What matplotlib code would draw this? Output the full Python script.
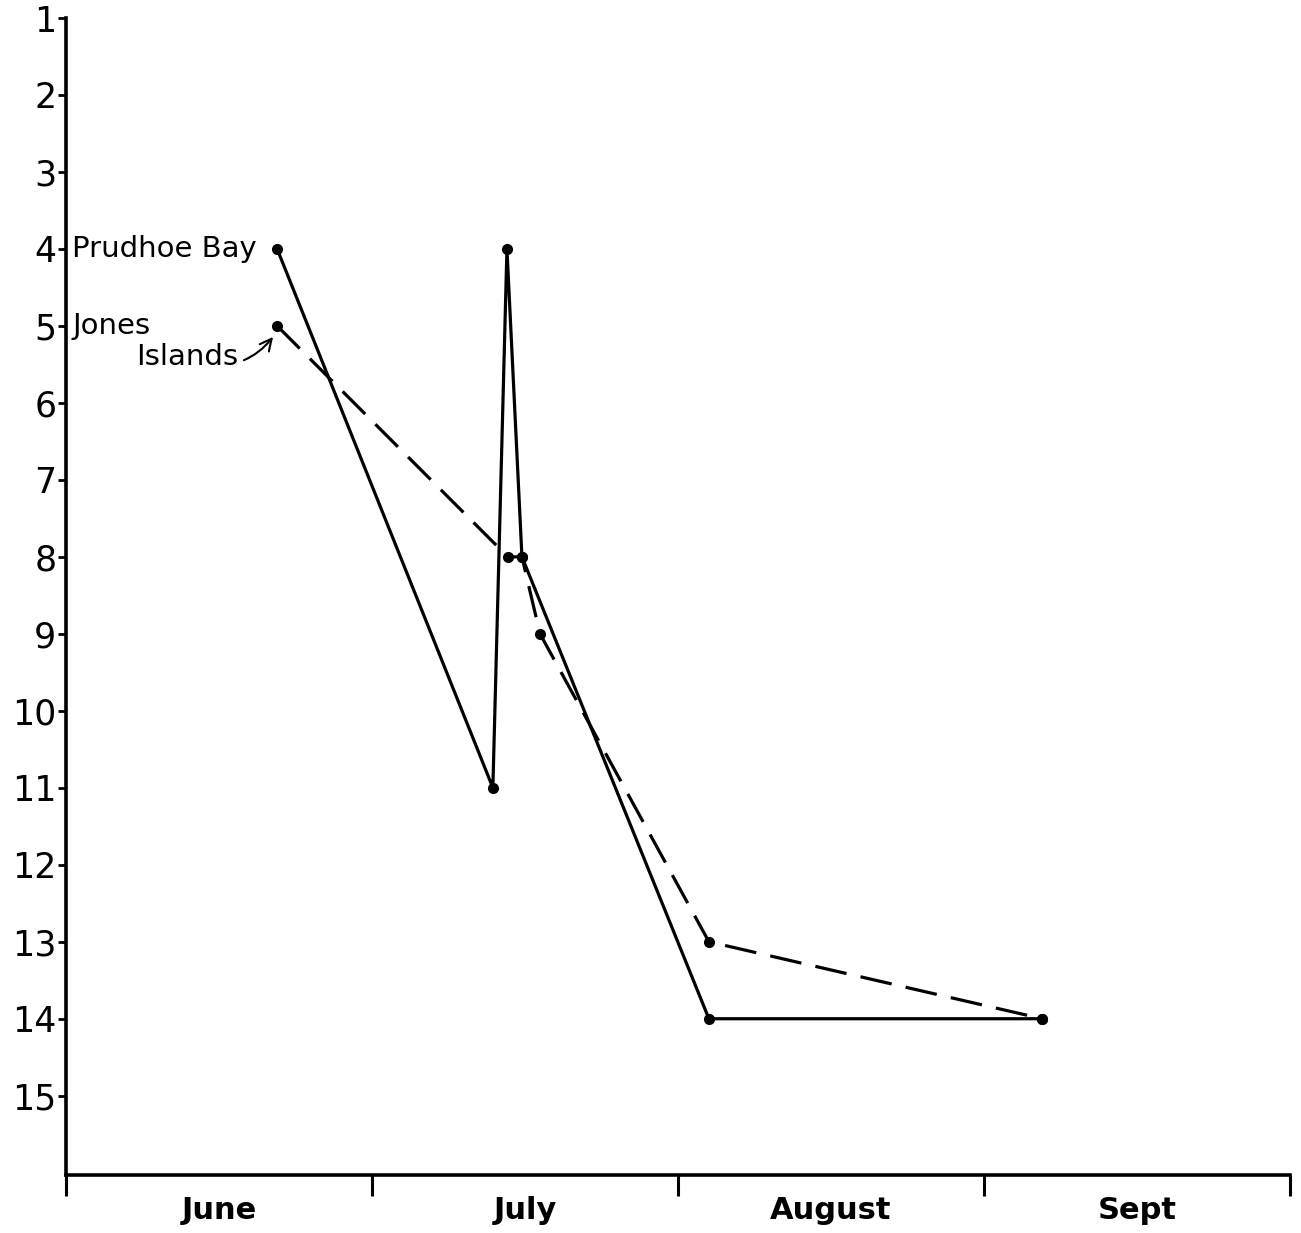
import matplotlib.pyplot as plt
from matplotlib.ticker import FixedLocator, NullFormatter

# x positions in months after June 1 (0 = June 1, 1 = July 1, ...)
prudhoe_x = [0.69, 1.395, 1.441, 1.490, 2.101, 3.190]
prudhoe_y = [4, 11, 4, 8, 14, 14]

jones_x = [0.69, 1.444, 1.490, 1.549, 2.101, 3.190]
jones_y = [5, 8, 8, 9, 13, 14]

months = ['June', 'July', 'August', 'Sept']
y_ticks = list(range(1, 16))

plt.rcParams['font.family'] = ['DejaVu Sans']

fig = plt.figure(figsize=(13.01, 12.33), dpi=100)
ax = fig.add_axes([66 / 1301, 58 / 1233, (1290 - 66) / 1301, (1175 - 18) / 1233])

ax.plot(prudhoe_x, prudhoe_y, color='black', lw=2.3, marker='o', ms=7,
        solid_joinstyle='round', clip_on=False)
ax.plot(jones_x, jones_y, color='black', lw=2.3, marker='o', ms=7,
        dashes=(10, 4.5), clip_on=False)

ax.set_xlim(0, 4)
ax.set_ylim(16.03, 1)

ax.set_yticks(y_ticks)
ax.set_yticklabels([str(v) for v in y_ticks])
ax.tick_params(axis='y', direction='out', length=6, width=2, pad=1, labelsize=25)

ax.xaxis.set_major_locator(FixedLocator([0, 1, 2, 3, 4]))
ax.xaxis.set_major_formatter(NullFormatter())
ax.xaxis.set_minor_locator(FixedLocator([0.5, 1.5, 2.5, 3.5]))
ax.set_xticklabels(months, minor=True, fontweight='bold')
ax.tick_params(axis='x', which='major', direction='out', length=15, width=2.2)
ax.tick_params(axis='x', which='minor', length=0, pad=15, labelsize=22)

for s in ['top', 'right']:
    ax.spines[s].set_visible(False)
for s in ['left', 'bottom']:
    ax.spines[s].set_linewidth(2.6)

ax.text(0.02, 4, 'Prudhoe Bay', fontsize=21, va='center', ha='left')
ax.text(0.02, 5, 'Jones', fontsize=21, va='center', ha='left')
ax.annotate('Islands', xy=(0.685, 5.1), xytext=(0.23, 5.4),
            fontsize=21, va='center', ha='left',
            arrowprops=dict(arrowstyle='->', color='black', lw=1.5,
                            connectionstyle='arc3,rad=0.4',
                            shrinkA=2, shrinkB=3))

fig.savefig('out.png', dpi=100, facecolor='white')
